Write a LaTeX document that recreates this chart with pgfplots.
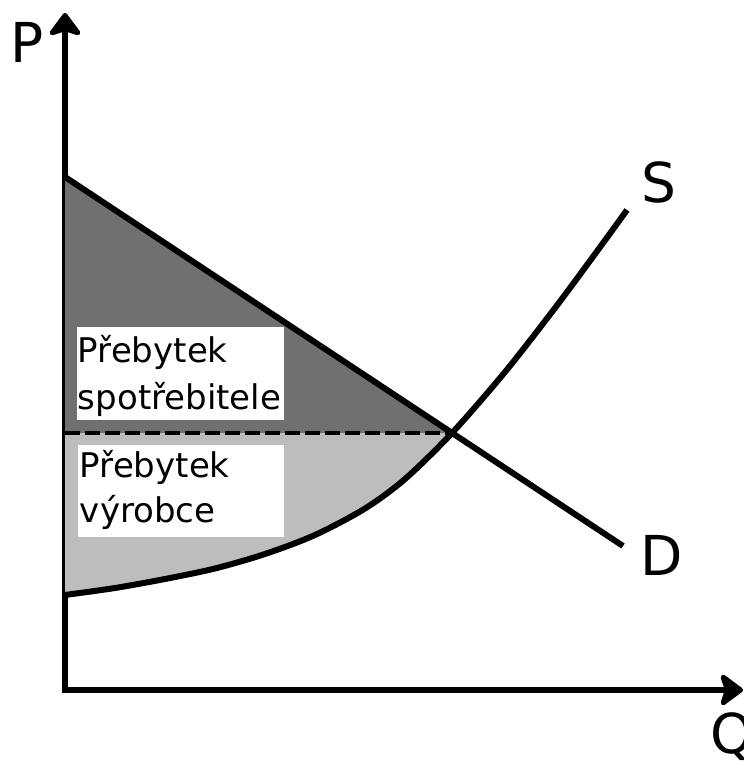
\documentclass[border=0pt]{standalone}
\usepackage{fontspec}
\setmainfont{DejaVu Sans}
\usepackage{pgfplots}
\pgfplotsset{compat=1.18}
\usetikzlibrary{arrows.meta}
\definecolor{darkfill}{RGB}{112,112,112}
\definecolor{lightfill}{RGB}{189,189,189}
\begin{document}
\begin{tikzpicture}
\begin{axis}[
  at={(32.5pt,36.5pt)}, anchor=south west,
  x=0.5pt, y=0.5pt,
  xmin=0, xmax=678, ymin=0, ymax=677,
  enlargelimits=false,
  axis lines*=left,
  axis line style={line width=2.8pt, line cap=rect, -{Stealth[length=13pt,width=19pt,inset=3pt,round]}},
  xtick=\empty, ytick=\empty,
  clip=false,
]
% producer surplus
\addplot[fill=lightfill, draw=none, smooth] coordinates {(0,95) (50,102) (100,111) (150,121.5) (200,136) (250,155) (300,181.5) (340,211) (387,257)} -- (axis cs:0,257) -- cycle;
% consumer surplus
\addplot[fill=darkfill, draw=none] coordinates {(0,513) (387,257) (0,257)} -- cycle;
% boxes
\fill[white] (axis cs:12,270) rectangle (axis cs:219,363);
\fill[white] (axis cs:13,153) rectangle (axis cs:219,245);
\begin{scope}[every node/.style={anchor=base west, inner sep=0pt, font=\fontsize{17}{23.5}\selectfont}]
\node at (axis cs:12.5,327) {Přebytek};
\node at (axis cs:12.5,280) {spotřebitele};
\node at (axis cs:14.5,212) {Přebytek};
\node at (axis cs:14.5,167) {výrobce};
\end{scope}
% equilibrium price line
\addplot[black, line width=1.8pt, dash pattern=on 7.5pt off 2.5pt] coordinates {(0,257) (387,257)};
% demand
\addplot[black, line width=3pt] coordinates {(0,513) (558,144)};
% supply
\addplot[black, line width=3pt, smooth] coordinates {(0,95) (50,102) (100,111) (150,121.5) (200,136) (250,155) (300,181.5) (340,211) (387,257) (440,318) (490,382) (530,436) (562,480)};
% labels
\begin{scope}[every node/.style={anchor=base west, inner sep=0pt, font=\fontsize{27.5}{33}\selectfont}]
\node at (axis cs:-55,627) {P};
\node at (axis cs:645,-63) {Q};
\node at (axis cs:576,487) {S};
\node at (axis cs:575,114) {D};
\end{scope}
\end{axis}
\pgfresetboundingbox
\path[use as bounding box] (0,0) rectangle (371.5pt,381.5pt);
\end{tikzpicture}
\end{document}
